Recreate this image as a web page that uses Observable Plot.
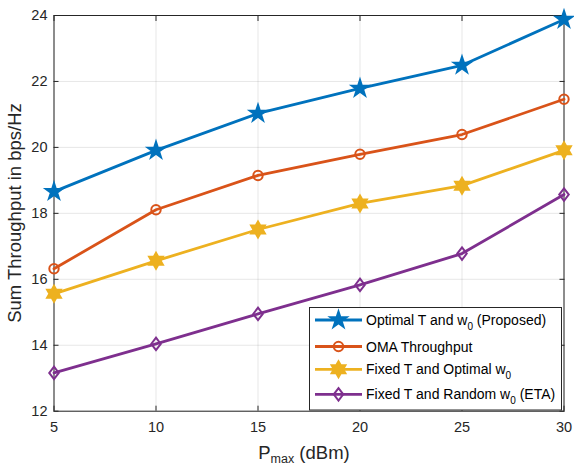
<!DOCTYPE html>
<html><head><meta charset="utf-8">
<script src="https://cdn.jsdelivr.net/npm/d3@7"></script>
<script src="https://cdn.jsdelivr.net/npm/@observablehq/plot@0.6"></script>
<style>
body{margin:0;background:#fff}
svg{font-family:"Liberation Sans",Arial,Helvetica,sans-serif}
</style>
</head><body><div id="chart"></div>
<script>
// ---- data ----
const pmax = [5, 10, 15, 20, 25, 30];
const optimalProposed = [18.66, 19.91, 21.03, 21.79, 22.49, 23.88];
const omaThroughput   = [16.32, 18.11, 19.15, 19.79, 20.39, 21.46];
const fixedTOptimalW0 = [15.56, 16.56, 17.51, 18.30, 18.84, 19.91];
const fixedTRandomW0  = [13.16, 14.04, 14.95, 15.83, 16.78, 18.57];
const xTicks = [5, 10, 15, 20, 25, 30];
const yTicks = [12, 14, 16, 18, 20, 22, 24];
const seriesKeys = ["proposed", "oma", "fixedOpt", "fixedRand"];
const seriesLabels = [
  ["Optimal T and w", "0", " (Proposed)"],
  ["OMA Throughput", "", ""],
  ["Fixed T and Optimal w", "0", ""],
  ["Fixed T and Random w", "0", " (ETA)"]
];

// ---- styles ----
const colors = {proposed: "#0072BD", oma: "#D95319", fixedOpt: "#EDB120", fixedRand: "#7E2F8E"};
const hexagram = {draw(ctx, size) {
  const R = Math.sqrt(size / Math.PI) * 1.6, r = R / Math.sqrt(3);
  for (let i = 0; i < 12; i++) {
    const a = -Math.PI / 2 + i * Math.PI / 6, rr = i % 2 ? r : R;
    const x = rr * Math.cos(a), y = rr * Math.sin(a);
    i ? ctx.lineTo(x, y) : ctx.moveTo(x, y);
  }
  ctx.closePath();
}};
const diamondM = {draw(ctx, size) {
  const s = Math.sqrt(size / Math.PI);
  const w = s * 0.95, h = s * 1.25;
  ctx.moveTo(0, -h); ctx.lineTo(w, 0); ctx.lineTo(0, h); ctx.lineTo(-w, 0); ctx.closePath();
}};
const symbols = {proposed: d3.symbolStar, oma: d3.symbolCircle, fixedOpt: hexagram, fixedRand: diamondM};
const filled = {proposed: true, oma: false, fixedOpt: true, fixedRand: false};
const radii = {proposed: 5.1, oma: 4.7, fixedOpt: 5, fixedRand: 5};

const valuesByKey = {proposed: optimalProposed, oma: omaThroughput, fixedOpt: fixedTOptimalW0, fixedRand: fixedTRandomW0};
const rows = seriesKeys.flatMap(k => pmax.map((p, i) => ({key: k, x: p, y: valuesByKey[k][i]})));

const axisColor = "#262626";
const marks = [
  Plot.gridX({ticks: xTicks, stroke: axisColor, strokeOpacity: 0.11}),
  Plot.gridY({ticks: yTicks, stroke: axisColor, strokeOpacity: 0.11}),
  Plot.axisX({ticks: xTicks, anchor: "bottom", tickSize: 0, tickPadding: 11, fontSize: 14.5, fill: axisColor, label: null}),
  Plot.axisY({ticks: yTicks, anchor: "left", tickSize: 0, tickPadding: 6.5, fontSize: 14.5, fill: axisColor, label: null}),
  Plot.axisX({ticks: xTicks, anchor: "bottom", tickSize: 5, dy: -5, fill: "none", stroke: axisColor, label: null}),
  Plot.axisX({ticks: xTicks, anchor: "top", tickSize: 5, dy: 5, fill: "none", stroke: axisColor, label: null}),
  Plot.axisY({ticks: yTicks, anchor: "left", tickSize: 5, dx: 5, fill: "none", stroke: axisColor, label: null}),
  Plot.axisY({ticks: yTicks, anchor: "right", tickSize: 5, dx: -5, fill: "none", stroke: axisColor, label: null}),
  Plot.frame({stroke: axisColor, strokeWidth: 1})
];
for (const k of seriesKeys) {
  const d = rows.filter(r => r.key === k);
  marks.push(Plot.line(d, {x: "x", y: "y", stroke: colors[k], strokeWidth: 2.8}));
  marks.push(Plot.dot(d, {x: "x", y: "y", symbol: () => symbols[k], r: radii[k],
    stroke: colors[k], strokeWidth: 2, fill: filled[k] ? colors[k] : "none"}));
}

const chart = Plot.plot({
  width: 574, height: 467,
  marginLeft: 53.5, marginRight: 10.5, marginTop: 15, marginBottom: 56.3,
  x: {domain: [5, 30], label: null},
  y: {domain: [12, 24], label: null},
  symbol: {type: "identity"},
  style: {fontFamily: '"Liberation Sans",Arial,sans-serif', background: "#fff"},
  marks
});
document.getElementById("chart").appendChild(chart);

// ---- axis labels (with subscript) and legend ----
const svg = d3.select(chart);
svg.append("text").attr("transform", "translate(21,213) rotate(-90)")
  .attr("text-anchor", "middle").attr("font-size", 18.5).attr("fill", axisColor)
  .text("Sum Throughput in bps/Hz");
const xl = svg.append("text").attr("x", 304).attr("y", 458.5).attr("text-anchor", "middle")
  .attr("font-size", 18.5).attr("fill", axisColor);
xl.append("tspan").text("P");
xl.append("tspan").attr("font-size", 12.5).attr("dy", 4.5).text("max");
xl.append("tspan").attr("dy", -4.5).text(" (dBm)");

const lg = svg.append("g").attr("text-anchor", "start");
lg.append("rect").attr("x", 309.5).attr("y", 307.5).attr("width", 252).attr("height", 102.5)
  .attr("fill", "#fff").attr("stroke", axisColor).attr("stroke-width", 1);
const ys = [320, 346.5, 369.3, 394.3];
seriesKeys.forEach((k, i) => {
  const y = ys[i];
  lg.append("line").attr("x1", 315).attr("x2", 362).attr("y1", y).attr("y2", y)
    .attr("stroke", colors[k]).attr("stroke-width", 2.8);
  lg.append("path").attr("transform", `translate(338.5,${y})`)
    .attr("d", d3.symbol(symbols[k], Math.PI * radii[k] * radii[k])())
    .attr("stroke", colors[k]).attr("stroke-width", 2).attr("fill", filled[k] ? colors[k] : "none");
  const t = lg.append("text").attr("x", 366).attr("y", y + 5).attr("font-size", 14).attr("fill", "#000");
  const [a, sub, b] = seriesLabels[i];
  t.append("tspan").text(a);
  if (sub) {
    t.append("tspan").attr("font-size", 10).attr("dy", 5).text(sub);
    t.append("tspan").attr("dy", -5).text(b);
  }
});
</script></body></html>
